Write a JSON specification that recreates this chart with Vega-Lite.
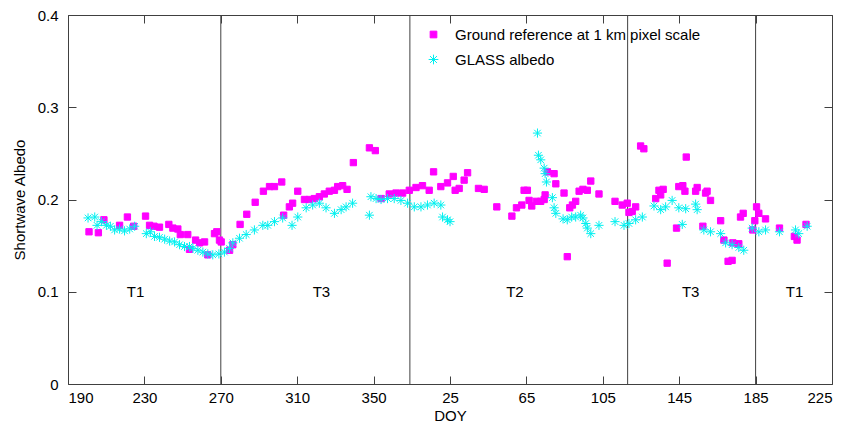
{
  "$schema": "https://vega.github.io/schema/vega-lite/v6.json",
  "width": 764,
  "height": 369,
  "autosize": {"type": "none"},
  "padding": {"left": 68, "top": 15, "right": 18, "bottom": 41},
  "background": "white",
  "config": {
    "view": {"stroke": null},
    "font": "Liberation Sans",
    "axis": {
      "grid": false,
      "domainColor": "#404040",
      "tickColor": "#404040",
      "labelColor": "#000000",
      "titleColor": "#000000",
      "labelFont": "Liberation Sans",
      "titleFont": "Liberation Sans",
      "labelFontSize": 15,
      "titleFontSize": 15,
      "titleFontWeight": "normal",
      "tickSize": -8,
      "domainWidth": 1,
      "tickWidth": 1
    },
    "legend": {
      "orient": "none",
      "legendX": 358,
      "legendY": 12,
      "labelFont": "Liberation Sans",
      "labelFontSize": 15,
      "labelColor": "#000000",
      "labelLimit": 0,
      "rowPadding": 9,
      "labelOffset": 14,
      "symbolSize": 45,
      "symbolStrokeWidth": 1
    }
  },
  "resolve": {"axis": {"x": "independent", "y": "independent"}},
  "layer": [
    {
      "data": {"values": [{"d": 270}, {"d": 369}, {"d": 483}, {"d": 550}]},
      "mark": {"type": "rule", "color": "#404040", "strokeWidth": 1},
      "encoding": {
        "x": {
          "field": "d", "type": "quantitative",
          "scale": {"domain": [190, 590], "nice": false, "zero": false},
          "axis": {"orient": "top", "labels": false, "title": null, "values": [190, 230, 270, 310, 350, 390, 430, 470, 510, 550, 590]}
        }
      }
    },
    {
      "data": {"values": [
        {"d": 225.4, "y": 0.1, "t": "T1"},
        {"d": 322.7, "y": 0.1, "t": "T3"},
        {"d": 424, "y": 0.1, "t": "T2"},
        {"d": 516, "y": 0.1, "t": "T3"},
        {"d": 570.4, "y": 0.1, "t": "T1"}
      ]},
      "mark": {"type": "text", "fontSize": 15, "font": "Liberation Sans", "color": "#000000"},
      "encoding": {
        "x": {"field": "d", "type": "quantitative", "scale": {"domain": [190, 590], "nice": false, "zero": false}, "axis": null},
        "y": {
          "field": "y", "type": "quantitative",
          "scale": {"domain": [0, 0.4], "nice": false},
          "axis": {"orient": "right", "labels": false, "title": null, "values": [0, 0.1, 0.2, 0.3, 0.4]}
        },
        "text": {"field": "t"}
      }
    },
    {
      "data": {"values": [
        {"s": "Ground reference at 1 km pixel scale", "d": 201.0, "a": 0.165},
        {"s": "Ground reference at 1 km pixel scale", "d": 205.9, "a": 0.164},
        {"s": "Ground reference at 1 km pixel scale", "d": 208.8, "a": 0.178},
        {"s": "Ground reference at 1 km pixel scale", "d": 217.0, "a": 0.172},
        {"s": "Ground reference at 1 km pixel scale", "d": 221.1, "a": 0.181},
        {"s": "Ground reference at 1 km pixel scale", "d": 224.4, "a": 0.171},
        {"s": "Ground reference at 1 km pixel scale", "d": 230.6, "a": 0.182},
        {"s": "Ground reference at 1 km pixel scale", "d": 232.7, "a": 0.172},
        {"s": "Ground reference at 1 km pixel scale", "d": 235.0, "a": 0.171},
        {"s": "Ground reference at 1 km pixel scale", "d": 237.9, "a": 0.170},
        {"s": "Ground reference at 1 km pixel scale", "d": 242.8, "a": 0.173},
        {"s": "Ground reference at 1 km pixel scale", "d": 244.9, "a": 0.169},
        {"s": "Ground reference at 1 km pixel scale", "d": 247.5, "a": 0.168},
        {"s": "Ground reference at 1 km pixel scale", "d": 248.8, "a": 0.162},
        {"s": "Ground reference at 1 km pixel scale", "d": 252.7, "a": 0.162},
        {"s": "Ground reference at 1 km pixel scale", "d": 253.6, "a": 0.146},
        {"s": "Ground reference at 1 km pixel scale", "d": 256.8, "a": 0.156},
        {"s": "Ground reference at 1 km pixel scale", "d": 258.9, "a": 0.153},
        {"s": "Ground reference at 1 km pixel scale", "d": 261.5, "a": 0.154},
        {"s": "Ground reference at 1 km pixel scale", "d": 263.2, "a": 0.140},
        {"s": "Ground reference at 1 km pixel scale", "d": 266.7, "a": 0.163},
        {"s": "Ground reference at 1 km pixel scale", "d": 267.9, "a": 0.165},
        {"s": "Ground reference at 1 km pixel scale", "d": 269.3, "a": 0.156},
        {"s": "Ground reference at 1 km pixel scale", "d": 270.2, "a": 0.154},
        {"s": "Ground reference at 1 km pixel scale", "d": 274.6, "a": 0.145},
        {"s": "Ground reference at 1 km pixel scale", "d": 276.3, "a": 0.151},
        {"s": "Ground reference at 1 km pixel scale", "d": 280.1, "a": 0.173},
        {"s": "Ground reference at 1 km pixel scale", "d": 283.6, "a": 0.184},
        {"s": "Ground reference at 1 km pixel scale", "d": 288.0, "a": 0.197},
        {"s": "Ground reference at 1 km pixel scale", "d": 292.3, "a": 0.209},
        {"s": "Ground reference at 1 km pixel scale", "d": 295.5, "a": 0.214},
        {"s": "Ground reference at 1 km pixel scale", "d": 298.1, "a": 0.214},
        {"s": "Ground reference at 1 km pixel scale", "d": 301.9, "a": 0.219},
        {"s": "Ground reference at 1 km pixel scale", "d": 310.3, "a": 0.209},
        {"s": "Ground reference at 1 km pixel scale", "d": 302.9, "a": 0.183},
        {"s": "Ground reference at 1 km pixel scale", "d": 305.9, "a": 0.192},
        {"s": "Ground reference at 1 km pixel scale", "d": 307.6, "a": 0.196},
        {"s": "Ground reference at 1 km pixel scale", "d": 313.8, "a": 0.200},
        {"s": "Ground reference at 1 km pixel scale", "d": 316.4, "a": 0.200},
        {"s": "Ground reference at 1 km pixel scale", "d": 319.0, "a": 0.201},
        {"s": "Ground reference at 1 km pixel scale", "d": 321.6, "a": 0.203},
        {"s": "Ground reference at 1 km pixel scale", "d": 324.2, "a": 0.206},
        {"s": "Ground reference at 1 km pixel scale", "d": 326.8, "a": 0.209},
        {"s": "Ground reference at 1 km pixel scale", "d": 329.5, "a": 0.210},
        {"s": "Ground reference at 1 km pixel scale", "d": 331.2, "a": 0.214},
        {"s": "Ground reference at 1 km pixel scale", "d": 333.8, "a": 0.215},
        {"s": "Ground reference at 1 km pixel scale", "d": 336.1, "a": 0.211},
        {"s": "Ground reference at 1 km pixel scale", "d": 339.4, "a": 0.240},
        {"s": "Ground reference at 1 km pixel scale", "d": 347.8, "a": 0.256},
        {"s": "Ground reference at 1 km pixel scale", "d": 350.9, "a": 0.253},
        {"s": "Ground reference at 1 km pixel scale", "d": 353.9, "a": 0.201},
        {"s": "Ground reference at 1 km pixel scale", "d": 358.2, "a": 0.206},
        {"s": "Ground reference at 1 km pixel scale", "d": 361.7, "a": 0.207},
        {"s": "Ground reference at 1 km pixel scale", "d": 365.2, "a": 0.207},
        {"s": "Ground reference at 1 km pixel scale", "d": 368.7, "a": 0.210},
        {"s": "Ground reference at 1 km pixel scale", "d": 372.2, "a": 0.213},
        {"s": "Ground reference at 1 km pixel scale", "d": 375.6, "a": 0.215},
        {"s": "Ground reference at 1 km pixel scale", "d": 379.1, "a": 0.210},
        {"s": "Ground reference at 1 km pixel scale", "d": 381.4, "a": 0.230},
        {"s": "Ground reference at 1 km pixel scale", "d": 385.2, "a": 0.214},
        {"s": "Ground reference at 1 km pixel scale", "d": 388.7, "a": 0.218},
        {"s": "Ground reference at 1 km pixel scale", "d": 391.7, "a": 0.225},
        {"s": "Ground reference at 1 km pixel scale", "d": 392.7, "a": 0.210},
        {"s": "Ground reference at 1 km pixel scale", "d": 394.8, "a": 0.212},
        {"s": "Ground reference at 1 km pixel scale", "d": 397.4, "a": 0.221},
        {"s": "Ground reference at 1 km pixel scale", "d": 399.2, "a": 0.229},
        {"s": "Ground reference at 1 km pixel scale", "d": 404.9, "a": 0.212},
        {"s": "Ground reference at 1 km pixel scale", "d": 407.9, "a": 0.211},
        {"s": "Ground reference at 1 km pixel scale", "d": 414.5, "a": 0.192},
        {"s": "Ground reference at 1 km pixel scale", "d": 422.4, "a": 0.182},
        {"s": "Ground reference at 1 km pixel scale", "d": 424.8, "a": 0.191},
        {"s": "Ground reference at 1 km pixel scale", "d": 427.6, "a": 0.194},
        {"s": "Ground reference at 1 km pixel scale", "d": 428.8, "a": 0.210},
        {"s": "Ground reference at 1 km pixel scale", "d": 430.5, "a": 0.210},
        {"s": "Ground reference at 1 km pixel scale", "d": 431.4, "a": 0.199},
        {"s": "Ground reference at 1 km pixel scale", "d": 432.8, "a": 0.193},
        {"s": "Ground reference at 1 km pixel scale", "d": 435.2, "a": 0.198},
        {"s": "Ground reference at 1 km pixel scale", "d": 437.5, "a": 0.198},
        {"s": "Ground reference at 1 km pixel scale", "d": 439.3, "a": 0.200},
        {"s": "Ground reference at 1 km pixel scale", "d": 439.8, "a": 0.205},
        {"s": "Ground reference at 1 km pixel scale", "d": 441.0, "a": 0.230},
        {"s": "Ground reference at 1 km pixel scale", "d": 444.5, "a": 0.228},
        {"s": "Ground reference at 1 km pixel scale", "d": 445.4, "a": 0.217},
        {"s": "Ground reference at 1 km pixel scale", "d": 449.7, "a": 0.207},
        {"s": "Ground reference at 1 km pixel scale", "d": 451.4, "a": 0.138},
        {"s": "Ground reference at 1 km pixel scale", "d": 452.7, "a": 0.191},
        {"s": "Ground reference at 1 km pixel scale", "d": 454.1, "a": 0.194},
        {"s": "Ground reference at 1 km pixel scale", "d": 455.8, "a": 0.198},
        {"s": "Ground reference at 1 km pixel scale", "d": 457.6, "a": 0.209},
        {"s": "Ground reference at 1 km pixel scale", "d": 459.6, "a": 0.211},
        {"s": "Ground reference at 1 km pixel scale", "d": 461.9, "a": 0.210},
        {"s": "Ground reference at 1 km pixel scale", "d": 463.7, "a": 0.220},
        {"s": "Ground reference at 1 km pixel scale", "d": 468.0, "a": 0.206},
        {"s": "Ground reference at 1 km pixel scale", "d": 476.4, "a": 0.198},
        {"s": "Ground reference at 1 km pixel scale", "d": 480.2, "a": 0.194},
        {"s": "Ground reference at 1 km pixel scale", "d": 482.8, "a": 0.196},
        {"s": "Ground reference at 1 km pixel scale", "d": 483.7, "a": 0.186},
        {"s": "Ground reference at 1 km pixel scale", "d": 485.4, "a": 0.187},
        {"s": "Ground reference at 1 km pixel scale", "d": 487.2, "a": 0.192},
        {"s": "Ground reference at 1 km pixel scale", "d": 489.8, "a": 0.258},
        {"s": "Ground reference at 1 km pixel scale", "d": 491.5, "a": 0.255},
        {"s": "Ground reference at 1 km pixel scale", "d": 497.7, "a": 0.201},
        {"s": "Ground reference at 1 km pixel scale", "d": 499.4, "a": 0.210},
        {"s": "Ground reference at 1 km pixel scale", "d": 501.6, "a": 0.211},
        {"s": "Ground reference at 1 km pixel scale", "d": 500.3, "a": 0.205},
        {"s": "Ground reference at 1 km pixel scale", "d": 509.8, "a": 0.214},
        {"s": "Ground reference at 1 km pixel scale", "d": 511.9, "a": 0.215},
        {"s": "Ground reference at 1 km pixel scale", "d": 513.0, "a": 0.209},
        {"s": "Ground reference at 1 km pixel scale", "d": 513.7, "a": 0.246},
        {"s": "Ground reference at 1 km pixel scale", "d": 518.6, "a": 0.209},
        {"s": "Ground reference at 1 km pixel scale", "d": 519.4, "a": 0.213},
        {"s": "Ground reference at 1 km pixel scale", "d": 523.8, "a": 0.207},
        {"s": "Ground reference at 1 km pixel scale", "d": 524.6, "a": 0.209},
        {"s": "Ground reference at 1 km pixel scale", "d": 526.4, "a": 0.199},
        {"s": "Ground reference at 1 km pixel scale", "d": 531.7, "a": 0.177},
        {"s": "Ground reference at 1 km pixel scale", "d": 508.6, "a": 0.169},
        {"s": "Ground reference at 1 km pixel scale", "d": 503.7, "a": 0.131},
        {"s": "Ground reference at 1 km pixel scale", "d": 522.4, "a": 0.171},
        {"s": "Ground reference at 1 km pixel scale", "d": 533.4, "a": 0.156},
        {"s": "Ground reference at 1 km pixel scale", "d": 538.1, "a": 0.153},
        {"s": "Ground reference at 1 km pixel scale", "d": 541.2, "a": 0.152},
        {"s": "Ground reference at 1 km pixel scale", "d": 535.6, "a": 0.133},
        {"s": "Ground reference at 1 km pixel scale", "d": 537.7, "a": 0.134},
        {"s": "Ground reference at 1 km pixel scale", "d": 542.1, "a": 0.181},
        {"s": "Ground reference at 1 km pixel scale", "d": 543.5, "a": 0.185},
        {"s": "Ground reference at 1 km pixel scale", "d": 549.6, "a": 0.177},
        {"s": "Ground reference at 1 km pixel scale", "d": 550.5, "a": 0.192},
        {"s": "Ground reference at 1 km pixel scale", "d": 551.7, "a": 0.185},
        {"s": "Ground reference at 1 km pixel scale", "d": 555.2, "a": 0.179},
        {"s": "Ground reference at 1 km pixel scale", "d": 548.5, "a": 0.167},
        {"s": "Ground reference at 1 km pixel scale", "d": 562.5, "a": 0.169},
        {"s": "Ground reference at 1 km pixel scale", "d": 570.3, "a": 0.160},
        {"s": "Ground reference at 1 km pixel scale", "d": 571.7, "a": 0.156},
        {"s": "Ground reference at 1 km pixel scale", "d": 576.4, "a": 0.173},
        {"s": "GLASS albedo", "d": 200.5, "a": 0.180},
        {"s": "GLASS albedo", "d": 204.0, "a": 0.181},
        {"s": "GLASS albedo", "d": 205.2, "a": 0.172},
        {"s": "GLASS albedo", "d": 207.5, "a": 0.176},
        {"s": "GLASS albedo", "d": 210.1, "a": 0.172},
        {"s": "GLASS albedo", "d": 212.2, "a": 0.171},
        {"s": "GLASS albedo", "d": 214.4, "a": 0.167},
        {"s": "GLASS albedo", "d": 217.0, "a": 0.168},
        {"s": "GLASS albedo", "d": 219.6, "a": 0.166},
        {"s": "GLASS albedo", "d": 222.3, "a": 0.168},
        {"s": "GLASS albedo", "d": 224.9, "a": 0.171},
        {"s": "GLASS albedo", "d": 231.0, "a": 0.163},
        {"s": "GLASS albedo", "d": 233.1, "a": 0.165},
        {"s": "GLASS albedo", "d": 235.3, "a": 0.160},
        {"s": "GLASS albedo", "d": 237.9, "a": 0.159},
        {"s": "GLASS albedo", "d": 240.6, "a": 0.157},
        {"s": "GLASS albedo", "d": 243.2, "a": 0.155},
        {"s": "GLASS albedo", "d": 245.8, "a": 0.154},
        {"s": "GLASS albedo", "d": 248.4, "a": 0.151},
        {"s": "GLASS albedo", "d": 251.0, "a": 0.149},
        {"s": "GLASS albedo", "d": 253.6, "a": 0.149},
        {"s": "GLASS albedo", "d": 255.4, "a": 0.147},
        {"s": "GLASS albedo", "d": 258.0, "a": 0.145},
        {"s": "GLASS albedo", "d": 260.6, "a": 0.143},
        {"s": "GLASS albedo", "d": 263.2, "a": 0.141},
        {"s": "GLASS albedo", "d": 265.8, "a": 0.140},
        {"s": "GLASS albedo", "d": 269.0, "a": 0.141},
        {"s": "GLASS albedo", "d": 271.9, "a": 0.143},
        {"s": "GLASS albedo", "d": 274.6, "a": 0.147},
        {"s": "GLASS albedo", "d": 276.3, "a": 0.153},
        {"s": "GLASS albedo", "d": 279.8, "a": 0.158},
        {"s": "GLASS albedo", "d": 283.3, "a": 0.162},
        {"s": "GLASS albedo", "d": 287.6, "a": 0.167},
        {"s": "GLASS albedo", "d": 292.0, "a": 0.172},
        {"s": "GLASS albedo", "d": 294.6, "a": 0.172},
        {"s": "GLASS albedo", "d": 298.1, "a": 0.176},
        {"s": "GLASS albedo", "d": 302.4, "a": 0.180},
        {"s": "GLASS albedo", "d": 307.3, "a": 0.172},
        {"s": "GLASS albedo", "d": 310.3, "a": 0.181},
        {"s": "GLASS albedo", "d": 314.7, "a": 0.191},
        {"s": "GLASS albedo", "d": 318.1, "a": 0.194},
        {"s": "GLASS albedo", "d": 321.6, "a": 0.196},
        {"s": "GLASS albedo", "d": 325.1, "a": 0.191},
        {"s": "GLASS albedo", "d": 329.5, "a": 0.185},
        {"s": "GLASS albedo", "d": 333.0, "a": 0.189},
        {"s": "GLASS albedo", "d": 335.6, "a": 0.192},
        {"s": "GLASS albedo", "d": 339.0, "a": 0.196},
        {"s": "GLASS albedo", "d": 347.8, "a": 0.183},
        {"s": "GLASS albedo", "d": 348.6, "a": 0.203},
        {"s": "GLASS albedo", "d": 351.3, "a": 0.201},
        {"s": "GLASS albedo", "d": 353.9, "a": 0.200},
        {"s": "GLASS albedo", "d": 357.3, "a": 0.201},
        {"s": "GLASS albedo", "d": 360.8, "a": 0.201},
        {"s": "GLASS albedo", "d": 364.3, "a": 0.199},
        {"s": "GLASS albedo", "d": 367.8, "a": 0.196},
        {"s": "GLASS albedo", "d": 371.3, "a": 0.192},
        {"s": "GLASS albedo", "d": 374.8, "a": 0.192},
        {"s": "GLASS albedo", "d": 378.2, "a": 0.194},
        {"s": "GLASS albedo", "d": 381.7, "a": 0.196},
        {"s": "GLASS albedo", "d": 385.2, "a": 0.194},
        {"s": "GLASS albedo", "d": 386.1, "a": 0.181},
        {"s": "GLASS albedo", "d": 388.7, "a": 0.178},
        {"s": "GLASS albedo", "d": 390.0, "a": 0.176},
        {"s": "GLASS albedo", "d": 435.8, "a": 0.272},
        {"s": "GLASS albedo", "d": 436.3, "a": 0.248},
        {"s": "GLASS albedo", "d": 437.5, "a": 0.243},
        {"s": "GLASS albedo", "d": 439.3, "a": 0.234},
        {"s": "GLASS albedo", "d": 439.8, "a": 0.228},
        {"s": "GLASS albedo", "d": 440.5, "a": 0.219},
        {"s": "GLASS albedo", "d": 443.6, "a": 0.202},
        {"s": "GLASS albedo", "d": 444.5, "a": 0.191},
        {"s": "GLASS albedo", "d": 445.4, "a": 0.185},
        {"s": "GLASS albedo", "d": 449.2, "a": 0.179},
        {"s": "GLASS albedo", "d": 451.4, "a": 0.178},
        {"s": "GLASS albedo", "d": 453.7, "a": 0.181},
        {"s": "GLASS albedo", "d": 455.8, "a": 0.181},
        {"s": "GLASS albedo", "d": 458.4, "a": 0.183},
        {"s": "GLASS albedo", "d": 459.6, "a": 0.180},
        {"s": "GLASS albedo", "d": 461.1, "a": 0.174},
        {"s": "GLASS albedo", "d": 461.9, "a": 0.169},
        {"s": "GLASS albedo", "d": 463.7, "a": 0.163},
        {"s": "GLASS albedo", "d": 468.0, "a": 0.172},
        {"s": "GLASS albedo", "d": 476.4, "a": 0.176},
        {"s": "GLASS albedo", "d": 481.1, "a": 0.172},
        {"s": "GLASS albedo", "d": 483.7, "a": 0.174},
        {"s": "GLASS albedo", "d": 487.2, "a": 0.178},
        {"s": "GLASS albedo", "d": 490.7, "a": 0.181},
        {"s": "GLASS albedo", "d": 496.8, "a": 0.193},
        {"s": "GLASS albedo", "d": 500.3, "a": 0.189},
        {"s": "GLASS albedo", "d": 502.9, "a": 0.192},
        {"s": "GLASS albedo", "d": 506.3, "a": 0.199},
        {"s": "GLASS albedo", "d": 509.8, "a": 0.191},
        {"s": "GLASS albedo", "d": 513.4, "a": 0.190},
        {"s": "GLASS albedo", "d": 518.6, "a": 0.195},
        {"s": "GLASS albedo", "d": 519.4, "a": 0.189},
        {"s": "GLASS albedo", "d": 511.6, "a": 0.173},
        {"s": "GLASS albedo", "d": 522.9, "a": 0.167},
        {"s": "GLASS albedo", "d": 526.4, "a": 0.165},
        {"s": "GLASS albedo", "d": 531.7, "a": 0.163},
        {"s": "GLASS albedo", "d": 534.3, "a": 0.153},
        {"s": "GLASS albedo", "d": 537.7, "a": 0.151},
        {"s": "GLASS albedo", "d": 541.2, "a": 0.148},
        {"s": "GLASS albedo", "d": 543.8, "a": 0.145},
        {"s": "GLASS albedo", "d": 548.2, "a": 0.169},
        {"s": "GLASS albedo", "d": 551.7, "a": 0.165},
        {"s": "GLASS albedo", "d": 555.2, "a": 0.167},
        {"s": "GLASS albedo", "d": 562.5, "a": 0.165},
        {"s": "GLASS albedo", "d": 570.9, "a": 0.167},
        {"s": "GLASS albedo", "d": 572.6, "a": 0.163},
        {"s": "GLASS albedo", "d": 577.0, "a": 0.171}
      ]},
      "mark": {"type": "point", "size": 40, "strokeWidth": 1, "opacity": 1},
      "encoding": {
        "x": {
          "field": "d", "type": "quantitative",
          "scale": {"domain": [190, 590], "nice": false, "zero": false},
          "axis": {
            "title": "DOY",
            "values": [190, 230, 270, 310, 350, 390, 430, 470, 510, 550, 590],
            "labelExpr": "datum.value > 365 ? datum.value - 365 : datum.value",
            "labelPadding": 14,
            "titlePadding": 3
          }
        },
        "y": {
          "field": "a", "type": "quantitative",
          "scale": {"domain": [0, 0.4], "nice": false},
          "axis": {
            "title": "Shortwave Albedo",
            "values": [0, 0.1, 0.2, 0.3, 0.4],
            "format": ".1~f",
            "labelPadding": 18,
            "titlePadding": 10
          }
        },
        "shape": {
          "field": "s", "type": "nominal",
          "scale": {"domain": ["Ground reference at 1 km pixel scale", "GLASS albedo"], "range": ["square", "M-1.45,0L1.45,0M0,-1.45L0,1.45M-1.03,-1.03L1.03,1.03M-1.03,1.03L1.03,-1.03"]},
          "legend": {"title": null}
        },
        "fill": {
          "field": "s", "type": "nominal",
          "scale": {"domain": ["Ground reference at 1 km pixel scale", "GLASS albedo"], "range": ["#ff00ff", "transparent"]},
          "legend": {"title": null}
        },
        "stroke": {
          "field": "s", "type": "nominal",
          "scale": {"domain": ["Ground reference at 1 km pixel scale", "GLASS albedo"], "range": ["#ff00ff", "#00f0f0"]},
          "legend": {"title": null}
        }
      }
    }
  ]
}
